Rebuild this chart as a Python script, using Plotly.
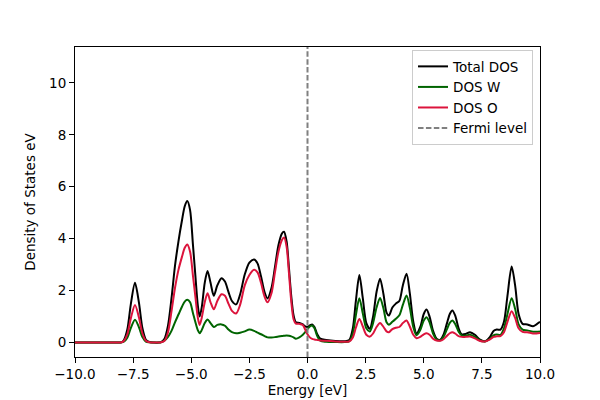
import plotly.graph_objects as go

# energies [eV] and DOS
energy = [-10.0, -9.0, -8.2, -8.0, -7.9, -7.75, -7.6, -7.42, -7.25, -7.1, -6.95, -6.8,
          -6.6, -6.4, -6.3, -6.15, -6.0, -5.85, -5.7, -5.55, -5.4, -5.28, -5.17, -5.05,
          -4.93, -4.82, -4.72, -4.64, -4.55, -4.42, -4.3, -4.17, -4.03, -3.88, -3.7, -3.55,
          -3.4, -3.25, -3.07, -2.9, -2.7, -2.5, -2.3, -2.15, -2.0, -1.85, -1.72, -1.55,
          -1.4, -1.25, -1.1, -1.01, -0.9, -0.8, -0.7, -0.6, -0.5, -0.35, -0.2, -0.1,
          0.0, 0.1, 0.2, 0.3, 0.42, 0.55, 0.8, 1.2, 1.6, 1.8, 1.95, 2.08,
          2.23, 2.38, 2.53, 2.68, 2.82, 2.97, 3.12, 3.27, 3.4, 3.5, 3.65, 3.8,
          3.95, 4.1, 4.26, 4.4, 4.55, 4.69, 4.85, 5.0, 5.12, 5.25, 5.4, 5.55,
          5.7, 5.85, 6.0, 6.12, 6.23, 6.35, 6.5, 6.63, 6.8, 6.99, 7.2, 7.4,
          7.63, 7.85, 8.0, 8.14, 8.3, 8.45, 8.6, 8.78, 8.93, 9.08, 9.25, 9.45,
          9.7, 9.85, 10.0]

dos_total = [0, 0, 0, 0.01, 0.09, 0.5, 1.47, 2.3, 1.54, 0.55, 0.11, 0.02,
             0, 0, 0.02, 0.15, 0.65, 1.7, 2.95, 3.9, 4.7, 5.25, 5.45, 5.1,
             3.8, 2.55, 1.45, 1.0, 1.35, 2.3, 2.76, 2.3, 1.8, 2.2, 2.48, 2.35,
             1.95, 1.6, 1.47, 1.85, 2.62, 3.08, 3.2, 3.05, 2.55, 1.95, 1.7, 2.1,
             2.9, 3.75, 4.2, 4.27, 3.9, 2.9, 1.8, 1.05, 0.78, 0.76, 0.7, 0.62,
             0.6, 0.66, 0.7, 0.6, 0.32, 0.15, 0.1, 0.06, 0.05, 0.1, 0.55, 1.6,
             2.6, 1.7, 0.75, 0.53, 1.0, 1.95, 2.46, 1.85, 1.15, 1.04, 1.35, 1.5,
             1.6, 2.2, 2.65, 1.9, 0.8, 0.35, 0.6, 1.1, 1.27, 1.0, 0.45, 0.15,
             0.1, 0.3, 0.75, 1.1, 1.24, 1.05, 0.55, 0.32, 0.33, 0.4, 0.3, 0.12,
             0.05, 0.22, 0.45, 0.5, 0.5, 0.8, 1.8, 2.93, 2.2, 1.1, 0.72, 0.7,
             0.63, 0.7, 0.8]

dos_w = [0, 0, 0, 0.01, 0.035, 0.19, 0.56, 0.88, 0.59, 0.21, 0.04, 0.01,
         0, 0, 0.01, 0.08, 0.22, 0.45, 0.78, 1.08, 1.38, 1.58, 1.65, 1.55,
         1.15, 0.78, 0.48, 0.36, 0.48, 0.75, 0.89, 0.75, 0.6, 0.68, 0.7, 0.65,
         0.5, 0.4, 0.36, 0.38, 0.43, 0.5, 0.45, 0.38, 0.32, 0.25, 0.2, 0.2,
         0.21, 0.23, 0.25, 0.26, 0.27, 0.26, 0.24, 0.2, 0.15, 0.2, 0.3, 0.4,
         0.52, 0.62, 0.66, 0.55, 0.25, 0.07, 0.03, 0.02, 0.02, 0.05, 0.35, 1.05,
         1.71, 1.12, 0.55, 0.43, 0.75, 1.35, 1.72, 1.3, 0.78, 0.69, 0.8, 0.92,
         1.05, 1.45, 1.81, 1.35, 0.6, 0.28, 0.48, 0.85, 0.98, 0.78, 0.35, 0.12,
         0.08, 0.22, 0.52, 0.76, 0.85, 0.72, 0.42, 0.28, 0.27, 0.3, 0.22, 0.09,
         0.04, 0.15, 0.28, 0.31, 0.3, 0.55, 1.1, 1.71, 1.3, 0.7, 0.5, 0.47,
         0.42, 0.42, 0.43]

dos_o = [0, 0, 0, 0.01, 0.06, 0.32, 0.93, 1.45, 0.97, 0.35, 0.07, 0.01,
         0, 0, 0.01, 0.07, 0.4, 1.2, 2.1, 2.8, 3.3, 3.65, 3.78, 3.5,
         2.6, 1.75, 0.98, 0.68, 0.95, 1.55, 1.9, 1.55, 1.28, 1.6, 1.86, 1.8,
         1.5, 1.22, 1.12, 1.45, 2.2, 2.6, 2.8, 2.7, 2.3, 1.78, 1.55, 1.9,
         2.7, 3.5, 3.95, 4.05, 3.7, 2.7, 1.6, 0.9, 0.73, 0.72, 0.68, 0.5,
         0.32, 0.2, 0.14, 0.12, 0.1, 0.08, 0.07, 0.04, 0.03, 0.05, 0.2, 0.57,
         0.91, 0.62, 0.3, 0.23, 0.35, 0.6, 0.75, 0.6, 0.43, 0.4, 0.52, 0.57,
         0.6, 0.75, 0.85, 0.62, 0.3, 0.17, 0.22, 0.32, 0.36, 0.3, 0.15, 0.08,
         0.07, 0.13, 0.26, 0.36, 0.4, 0.35, 0.25, 0.22, 0.22, 0.23, 0.16, 0.07,
         0.04, 0.12, 0.22, 0.24, 0.25, 0.4, 0.8, 1.21, 0.95, 0.55, 0.41, 0.4,
         0.35, 0.35, 0.37]

fermi_level = 0.0
x_limits = [-10, 10]
y_limits = [-0.555, 11.38]


def get_trace(y, name, color):
    return go.Scatter(x=energy, y=y, name=name, mode='lines',
                      line=dict(color=color, width=2, shape='spline', smoothing=0.8))


data = [get_trace(dos_total, 'Total DOS', 'black'),
        get_trace(dos_w, 'DOS W', '#006400'),
        get_trace(dos_o, 'DOS O', '#DC143C'),
        go.Scatter(x=[fermi_level, fermi_level], y=y_limits, name='Fermi level', mode='lines',
                   line=dict(color='gray', width=2, dash='5.5px,2.4px'))]

axis_style = dict(showline=True, linecolor='black', linewidth=1.1, mirror=True,
                  ticks='outside', ticklen=5, tickwidth=1.1, tickcolor='black',
                  showgrid=False, zeroline=False, automargin=False,
                  tickfont=dict(size=13.5, color='black'))

# page body adds an 8px offset, so the figure is 8px smaller on each side
layout = go.Layout(
    template='none',
    width=592, height=392,
    margin=dict(l=67, r=60, t=39, b=43, pad=0),
    paper_bgcolor='white', plot_bgcolor='white',
    font=dict(family='DejaVu Sans', size=13.5, color='black'),
    xaxis=dict(range=x_limits, tickvals=[-10, -7.5, -5, -2.5, 0, 2.5, 5, 7.5, 10],
               tickformat='.1f',
               title=dict(text='Energy [eV]', font=dict(size=13.5), standoff=4),
               **axis_style),
    yaxis=dict(range=y_limits, tickvals=[0, 2, 4, 6, 8, 10],
               title=dict(text='Density of States eV', font=dict(size=13.5), standoff=10),
               **axis_style),
    legend=dict(x=0.985, y=0.99, xanchor='right', yanchor='top',
                bgcolor='white', bordercolor='#cccccc', borderwidth=1,
                font=dict(size=13.5), itemwidth=30, tracegroupgap=0),
    showlegend=True
)

fig = go.Figure(data=data, layout=layout)
fig.write_html("out.html")
